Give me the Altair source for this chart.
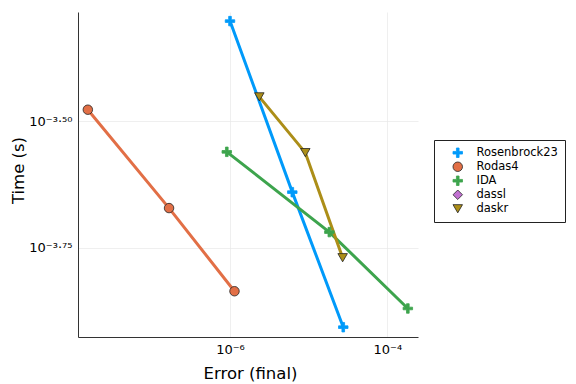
import altair as alt
import pandas as pd

series_names = ["Rosenbrock23", "Rodas4", "IDA", "dassl", "daskr"]
line_colors = ["#009AFA", "#E26F46", "#3DA44D", "#C271D2", "#AC8E18"]
edge_colors = ["#009AFA", "#222222", "#3DA44D", "#222222", "#222222"]
plus = "M-1,-0.28H-0.28V-1H0.28V-0.28H1V0.28H0.28V1H-0.28V0.28H-1Z"
shapes = [plus, "circle", plus, "diamond", "triangle-down"]

rosenbrock_err = [1.0e-6, 6.19e-6, 2.75e-5]
rosenbrock_time = [4.98e-4, 2.29e-4, 1.24e-4]
rodas_err = [1.56e-8, 1.68e-7, 1.14e-6]
rodas_time = [3.33e-4, 2.13e-4, 1.46e-4]
ida_err = [9.1e-7, 1.83e-5, 1.82e-4]
ida_time = [2.75e-4, 1.91e-4, 1.35e-4]
dassl_err = []
dassl_time = []
daskr_err = [2.36e-6, 9.06e-6, 2.70e-5]
daskr_time = [3.53e-4, 2.74e-4, 1.70e-4]

x_ticks = [1e-6, 1e-4]
y_ticks = [10 ** -3.5, 10 ** -3.75]
x_domain = [1.17e-8, 2.45e-4]
y_domain = [1.186e-4, 5.19e-4]

rows = []
for name, errs, times in [
    ("Rosenbrock23", rosenbrock_err, rosenbrock_time),
    ("Rodas4", rodas_err, rodas_time),
    ("IDA", ida_err, ida_time),
    ("dassl", dassl_err, dassl_time),
    ("daskr", daskr_err, daskr_time),
]:
    for i, (e, t) in enumerate(zip(errs, times)):
        rows.append({"series": name, "err": e, "time": t, "idx": i})
df = pd.DataFrame(rows)

FONT = "DejaVu Sans"

x_enc = alt.X(
    "err:Q",
    scale=alt.Scale(type="log", domain=x_domain, nice=False),
    axis=alt.Axis(
        values=x_ticks,
        labelExpr="datum.value < 1e-5 ? '10⁻⁶' : '10⁻⁴'",
        title="Error (final)",
        titleX=172,
        titleY=36,
        titleBaseline="middle",
        titleAlign="center",
        labelPadding=6,
        ticks=False,
    ),
)
y_enc = alt.Y(
    "time:Q",
    scale=alt.Scale(type="log", domain=y_domain, nice=False),
    axis=alt.Axis(
        values=y_ticks,
        labelExpr="datum.value > 2.5e-4 ? '10⁻³·⁵⁰' : '10⁻³·⁷⁵'",
        title="Time (s)",
        titleX=-60,
        titleY=158,
        titleAngle=270,
        titleBaseline="middle",
        titleAlign="center",
        labelPadding=6,
        ticks=False,
    ),
)

# line colour scale uses the same mapping, listed in reverse order
lines = alt.Chart(df).mark_line(strokeWidth=3).encode(
    x=x_enc,
    y=y_enc,
    color=alt.Color(
        "series:N",
        scale=alt.Scale(domain=series_names[::-1], range=line_colors[::-1]),
        legend=None,
    ),
    order="idx:Q",
)

leg = alt.Legend(
    title=None,
    orient="none",
    legendX=356,
    legendY=128,
    strokeColor="#222",
    fillColor="white",
    padding=7,
    labelFont=FONT,
    labelFontSize=11.5,
    labelColor="#000",
    symbolSize=90,
    symbolStrokeWidth=0.8,
    symbolOffset=11,
    labelOffset=13,
    rowPadding=0,
    cornerRadius=0,
)

points = alt.Chart(df).mark_point(filled=True, strokeWidth=0.8, opacity=1, size=90).encode(
    x=x_enc,
    y=y_enc,
    fill=alt.Fill("series:N", scale=alt.Scale(domain=series_names, range=line_colors), legend=leg),
    stroke=alt.Stroke("series:N", scale=alt.Scale(domain=series_names, range=edge_colors), legend=leg),
    shape=alt.Shape("series:N", scale=alt.Scale(domain=series_names, range=shapes), legend=leg),
)

chart = (
    alt.layer(lines, points)
    .properties(
        width=340,
        height=325,
        autosize=alt.AutoSizeParams(type="none"),
        padding={"left": 70, "top": 4, "right": 150, "bottom": 46},
    )
    .configure_view(stroke=None)
    .configure_axis(
        labelFont=FONT,
        titleFont=FONT,
        labelFontSize=13,
        titleFontSize=16.5,
        titleFontWeight="normal",
        labelColor="#000",
        titleColor="#000",
        domainColor="#333",
        domainWidth=1,
        gridColor="#e8e8e8",
        gridWidth=0.7,
    )
)

chart.save("out.html", embed_options={"renderer": "svg", "actions": False})
